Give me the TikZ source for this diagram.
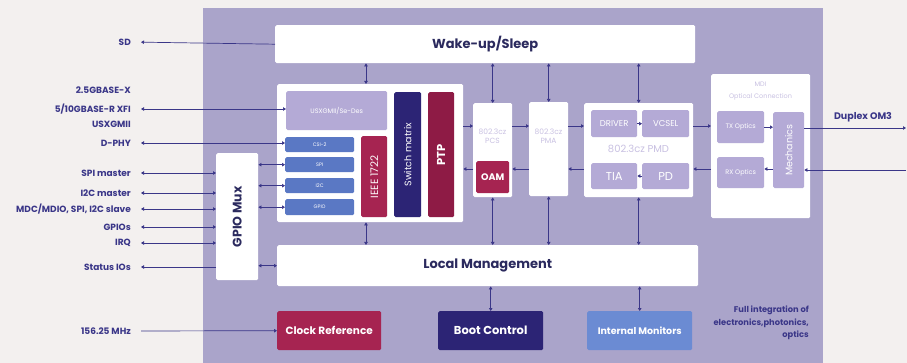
\documentclass[tikz,border=0pt]{standalone}
\usepackage{fontspec}
\setmainfont{Poppins}
\usetikzlibrary{arrows.meta,positioning,calc}
\definecolor{paper}{HTML}{F3F0EF}
\definecolor{panel}{HTML}{AAA4CA}
\definecolor{lav}{HTML}{B4AAD6}
\definecolor{faint}{HTML}{C9C1E2}
\definecolor{steel}{HTML}{5A78C4}
\definecolor{steellt}{HTML}{6B8BD3}
\definecolor{crim}{HTML}{A62451}
\definecolor{maroon}{HTML}{8E1B45}
\definecolor{navy}{HTML}{2C2475}
\definecolor{ink}{HTML}{3A3688}
\definecolor{title}{HTML}{2B2A5E}

\begin{document}
\begin{tikzpicture}[x=1pt,y=-1pt,
  blk/.style={anchor=north west,inner sep=0pt,align=center,rounded corners=1.5pt},
  wbox/.style={blk,fill=white},
  ibox/.style={blk,fill=lav,text=white,font=\fontsize{6}{7}\selectfont},
  tag/.style={blk,text=white,font=\fontsize{5}{6}\selectfont},
  fnt/.style={text=faint,font=\fontsize{7.5}{9}\selectfont,align=center,inner sep=0pt},
  lbl/.style={anchor=east,text=ink,inner sep=0pt,font=\fontsize{9}{9}\selectfont\bfseries},
  arr/.style={ink,line width=0.7pt,-{Triangle[length=3pt,width=3.5pt]}},
  dbl/.style={ink,line width=0.7pt,{Triangle[length=3pt,width=3.5pt]}-{Triangle[length=3pt,width=3.5pt]}}]
  \fill[paper] (0,0) rectangle (907,363);
  \fill[panel] (203,8) rectangle (823,363);

  % main blocks
  \node[wbox,minimum width=420pt,minimum height=38pt,text=title,font=\fontsize{13}{14}\selectfont\bfseries] (wake) at (275,25) {Wake-up/Sleep};
  \node[wbox,minimum width=186pt,minimum height=138pt] (mac) at (277,84) {};
  \node[ibox,minimum width=101pt,minimum height=39pt,font=\fontsize{6.5}{7}\selectfont] (usx) at (286,91) {USXGMII/Se-Des};
  \node[tag,fill=steel,minimum width=69pt,minimum height=15pt] (csi) at (285,137) {CSI-2};
  \node[tag,fill=steel,minimum width=69pt,minimum height=15pt] (spi) at (285,157) {SPI};
  \node[tag,fill=steel,minimum width=69pt,minimum height=15pt] (iic) at (285,178) {I2C};
  \node[tag,fill=steel,minimum width=69pt,minimum height=16pt] (gpio) at (285,199) {GPIO};
  \node[blk,fill=crim,text=white,minimum width=26pt,minimum height=81pt,font=\fontsize{10.5}{11}\selectfont] (ieee) at (361,136) {\rotatebox{90}{IEEE 1722}};
  \node[blk,fill=navy,text=white,minimum width=27pt,minimum height=125pt,font=\fontsize{9.5}{10}\selectfont] (sw) at (394,92) {\rotatebox{90}{Switch matrix}};
  \node[blk,fill=maroon,text=white,minimum width=26pt,minimum height=125pt,font=\fontsize{11.5}{12}\selectfont\bfseries] (ptp) at (428,92) {\rotatebox{90}{PTP}};

  \node[wbox,minimum width=39pt,minimum height=94pt] (pcs) at (473,103) {};
  \node[fnt] (pcstxt) at (492.5,136) {802.3cz\\PCS};
  \node[blk,fill=crim,text=white,minimum width=33pt,minimum height=32pt,font=\fontsize{9.5}{10}\selectfont\bfseries] (oam) at (476,161) {OAM};
  \node[wbox,minimum width=39pt,minimum height=94pt] (pma) at (529,102) {};
  \node[fnt] (pmatxt) at (548.5,136) {802.3cz\\PMA};

  \node[wbox,minimum width=109pt,minimum height=94pt] (pmd) at (584,103) {};
  \node[ibox,minimum width=46pt,minimum height=27pt,font=\fontsize{8.5}{9}\selectfont] (drv) at (591,110) {DRIVER};
  \node[ibox,minimum width=47pt,minimum height=27pt,font=\fontsize{8.5}{9}\selectfont] (vcsel) at (642,110) {VCSEL};
  \node[fnt,font=\fontsize{10}{11}\selectfont] (pmdtxt) at (638.5,149) {802.3cz PMD};
  \node[ibox,minimum width=46pt,minimum height=26pt,font=\fontsize{11.5}{12}\selectfont] (tia) at (591,163) {TIA};
  \node[ibox,minimum width=47pt,minimum height=26pt,font=\fontsize{11.5}{12}\selectfont] (pd) at (642,163) {PD};

  \node[wbox,minimum width=99pt,minimum height=144pt] (mdi) at (711,74) {};
  \node[fnt,font=\fontsize{6.5}{12}\selectfont] (mditxt) at (760.5,91) {MDI\\Optical Connection};
  \node[ibox,minimum width=47pt,minimum height=32pt,font=\fontsize{6.5}{7}\selectfont] (tx) at (717,111) {TX Optics};
  \node[ibox,minimum width=47pt,minimum height=31pt,font=\fontsize{6.5}{7}\selectfont] (rx) at (717,157) {RX Optics};
  \node[ibox,minimum width=31pt,minimum height=76pt,font=\fontsize{9.5}{10}\selectfont] (mech) at (773,112) {\rotatebox{90}{Mechanics}};

  \node[wbox,minimum width=42pt,minimum height=127pt,text=title,font=\fontsize{12.5}{13}\selectfont\bfseries] (gmux) at (216,153) {\rotatebox{90}{GPIO Mux}};
  \node[wbox,minimum width=421pt,minimum height=41pt,text=title,font=\fontsize{13}{14}\selectfont\bfseries] (lm) at (277,245) {Local Management};

  \node[blk,fill=crim,text=white,minimum width=104pt,minimum height=39pt,font=\fontsize{10.5}{11}\selectfont\bfseries] (clk) at (277,311) {Clock Reference};
  \node[blk,fill=navy,text=white,minimum width=105pt,minimum height=39pt,font=\fontsize{11.5}{12}\selectfont\bfseries] (boot) at (438,311) {Boot Control};
  \node[blk,fill=steellt,text=white,minimum width=105pt,minimum height=39pt,font=\fontsize{9.5}{10}\selectfont\bfseries] (mon) at (587,311) {Internal Monitors};
  \node[text=ink,anchor=north east,align=right,inner sep=0pt,font=\fontsize{8.3}{12.5}\selectfont\bfseries] (note) at (809,306) {Full integration of\\electronics,photonics,\\optics};

  % left side signals
  \node[lbl] (sd) at (131,42) {SD};
  \node[lbl] (gbx) at (131,90) {2.5GBASE-X};
  \node[lbl] (xfi) at (131,109) {5/10GBASE-R XFI};
  \node[lbl] (usxl) at (131,124) {USXGMII};
  \node[lbl] (dphy) at (131,143) {D-PHY};
  \node[lbl] (spim) at (131,173) {SPI master};
  \node[lbl] (iicm) at (131,193) {I2C master};
  \node[lbl] (slv) at (131,209) {MDC/MDIO, SPI, I2C slave};
  \node[lbl] (gpios) at (131,227) {GPIOs};
  \node[lbl] (irq) at (131,243) {IRQ};
  \node[lbl] (stat) at (131,267) {Status IOs};
  \node[lbl] (mhz) at (131,331) {156.25 MHz};
  \node[text=ink,inner sep=0pt,font=\fontsize{9.5}{10}\selectfont\bfseries] (om3) at (863,117) {Duplex OM3};

  \coordinate (c1) at (366,0);
  \coordinate (txrow) at (0,126);
  \coordinate (rxrow) at (0,169);
  \coordinate (fibout) at (906,128);
  \coordinate (fibin) at (906,170);

  \draw[arr,shorten >=10pt] (wake.west) -- (sd.east);
  \draw[dbl,shorten <=10pt] (xfi.east) -- (xfi.east -| usx.west);
  \draw[dbl,shorten <=10pt] (dphy.east) -- (dphy.east -| csi.west);
  \foreach \s in {spim,iicm,slv,gpios,irq}
    \draw[dbl,shorten <=10pt] (\s.east) -- (\s.east -| gmux.west);
  \draw[arr,shorten >=10pt] (stat.east -| gmux.west) -- (stat.east);
  \draw[arr,shorten <=10pt] (mhz.east) -- (clk.west);
  \foreach \b in {spi,iic,gpio}
    \draw[dbl] (\b.west -| gmux.east) -- (\b.west);
  \draw[dbl] (gmux.east |- lm.west) -- (lm.west);

  % control paths
  \draw[dbl] (wake.south -| c1) -- (mac.north -| c1);
  \draw[dbl] (mac.south -| c1) -- (lm.north -| c1);
  \foreach \b in {pcs,pma,pmd} {
    \draw[dbl] (wake.south -| \b.north) -- (\b.north);
    \draw[dbl] (\b.south) -- (lm.north -| \b.south);
  }
  \draw[dbl] (lm.south -| boot.north) -- (boot.north);
  \draw[dbl] (lm.south -| mon.north) -- (mon.north);

  % data paths
  \draw[arr] (mac.east |- txrow) -- (pcs.west |- txrow);
  \draw[arr] (pcs.east |- txrow) -- (pma.west |- txrow);
  \draw[arr] (pma.east |- txrow) -- (pmd.west |- txrow);
  \draw[arr] (pmd.east |- txrow) -- (mdi.west |- txrow);
  \draw[arr] (pcs.west |- rxrow) -- (mac.east |- rxrow);
  \draw[arr] (pma.west |- rxrow) -- (pcs.east |- rxrow);
  \draw[arr] (pmd.west |- rxrow) -- (pma.east |- rxrow);
  \draw[arr] (mdi.west |- rxrow) -- (pmd.east |- rxrow);
  \draw[arr] (drv.east) -- (vcsel.west);
  \draw[arr] (pd.west |- 0,176) -- (tia.east |- 0,176);
  \draw[arr] (tx.east) -- (mech.west |- tx.east);
  \draw[arr] (mech.west |- rxrow) -- (rx.east |- rxrow);
  \draw[arr] (mech.east |- fibout) -- (fibout);
  \draw[arr] (fibin) -- (mech.east |- fibin);
\end{tikzpicture}
\end{document}
